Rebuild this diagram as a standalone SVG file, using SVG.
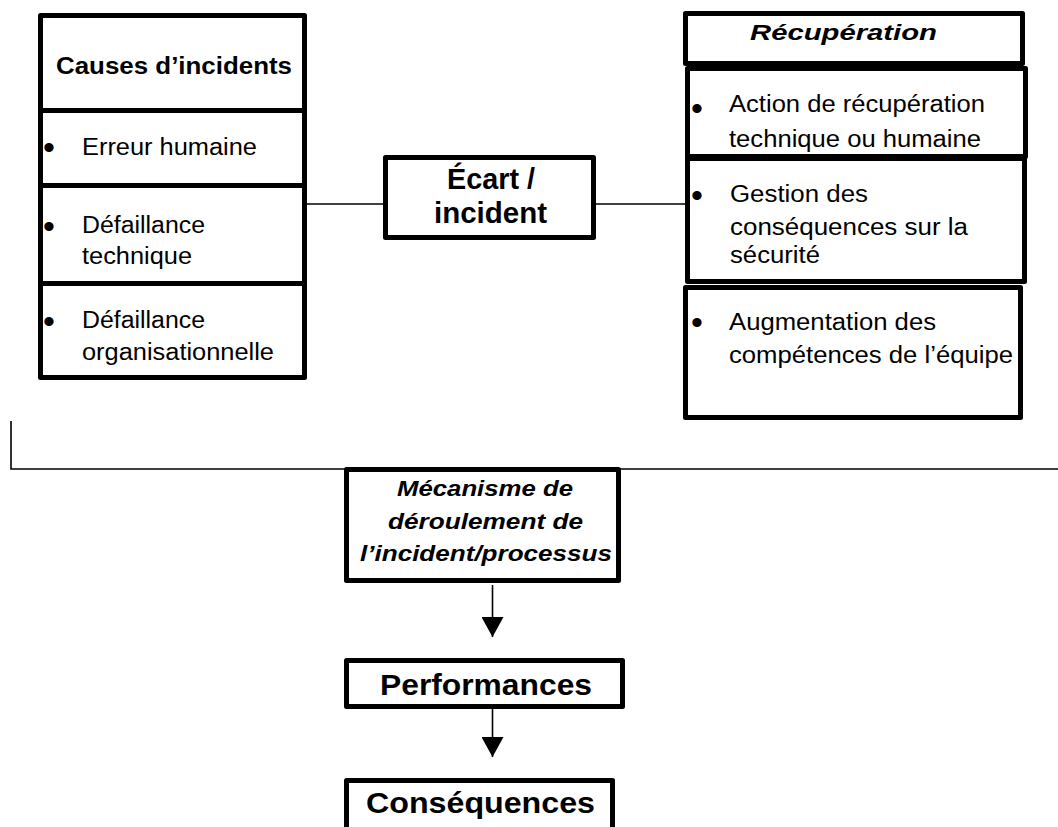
<svg xmlns="http://www.w3.org/2000/svg" width="1058" height="827" viewBox="0 0 1058 827">
  <style>
    .box { fill: #fff; stroke: #000; stroke-width: 5; stroke-linejoin: round; }
    .wire { fill: none; stroke: #000; stroke-width: 1.6; }
    text { font-family: "Liberation Sans", Arial, sans-serif; fill: #000; }
    .n { font-size: 23px; }
    .head { font-size: 23px; font-weight: bold; }
    .headi { font-size: 22px; font-weight: bold; font-style: italic; }
    .mec { font-size: 22px; font-weight: bold; font-style: italic; }
    .big { font-size: 29px; font-weight: bold; }
    .dot { font-size: 34px; }
  </style>
  <defs>
    <marker id="arrowhead" markerUnits="userSpaceOnUse" markerWidth="21" markerHeight="22" refX="20" refY="11" orient="auto">
      <path d="M0,0 L20,11 L0,22 z" fill="#000"/>
    </marker>
  </defs>
  <rect width="1058" height="827" fill="#fff"/>

  <!-- connectors -->
  <g id="connectors">
    <line class="wire" x1="298" y1="204" x2="385" y2="204"/>
    <line class="wire" x1="595" y1="204" x2="686" y2="204"/>
    <polyline class="wire" points="11,421 11,469 1058,469"/>
    <line class="wire" x1="492.5" y1="585" x2="492.5" y2="637" marker-end="url(#arrowhead)"/>
    <line class="wire" x1="492.5" y1="708" x2="492.5" y2="757" marker-end="url(#arrowhead)"/>
  </g>

  <!-- causes column -->
  <g id="causes-header">
    <rect class="box" x="40.5" y="15.5" width="264" height="95"/>
    <text class="head" x="56" y="74" textLength="236" lengthAdjust="spacingAndGlyphs">Causes d’incidents</text>
  </g>
  <g id="cause-human">
    <rect class="box" x="40.5" y="110.5" width="264" height="75"/>
    <text class="dot" x="43" y="159">•</text>
    <text class="n" x="82" y="155" textLength="175" lengthAdjust="spacingAndGlyphs">Erreur humaine</text>
  </g>
  <g id="cause-technical">
    <rect class="box" x="40.5" y="185.5" width="264" height="98"/>
    <text class="dot" x="43" y="238">•</text>
    <text class="n" x="82" y="233" textLength="123" lengthAdjust="spacingAndGlyphs">Défaillance</text>
    <text class="n" x="82" y="264" textLength="110" lengthAdjust="spacingAndGlyphs">technique</text>
  </g>
  <g id="cause-organisational">
    <rect class="box" x="40.5" y="283.5" width="264" height="94"/>
    <text class="dot" x="43" y="333">•</text>
    <text class="n" x="82" y="328" textLength="123" lengthAdjust="spacingAndGlyphs">Défaillance</text>
    <text class="n" x="82" y="360" textLength="192" lengthAdjust="spacingAndGlyphs">organisationnelle</text>
  </g>

  <!-- central event -->
  <g id="ecart-incident">
    <rect class="box" x="385.5" y="157.5" width="208" height="80"/>
    <text class="big" x="447" y="189" textLength="88" lengthAdjust="spacingAndGlyphs">Écart /</text>
    <text class="big" x="434" y="223" textLength="113" lengthAdjust="spacingAndGlyphs">incident</text>
  </g>

  <!-- recovery column -->
  <g id="recuperation-header">
    <rect class="box" x="685.5" y="13.5" width="337" height="50"/>
    <text class="headi" x="750" y="40" textLength="187" lengthAdjust="spacingAndGlyphs">Récupération</text>
  </g>
  <g id="recovery-action">
    <rect class="box" x="687.5" y="68.5" width="338" height="88"/>
    <text class="dot" x="691" y="120">•</text>
    <text class="n" x="729" y="112" textLength="256" lengthAdjust="spacingAndGlyphs">Action de récupération</text>
    <text class="n" x="729" y="147" textLength="252" lengthAdjust="spacingAndGlyphs">technique ou humaine</text>
  </g>
  <g id="recovery-safety">
    <rect class="box" x="687.5" y="158.5" width="337" height="123"/>
    <text class="dot" x="691" y="207">•</text>
    <text class="n" x="730" y="202" textLength="138" lengthAdjust="spacingAndGlyphs">Gestion des</text>
    <text class="n" x="730" y="235" textLength="238" lengthAdjust="spacingAndGlyphs">conséquences sur la</text>
    <text class="n" x="730" y="263" textLength="90" lengthAdjust="spacingAndGlyphs">sécurité</text>
  </g>
  <g id="recovery-skills">
    <rect class="box" x="685.5" y="287.5" width="335" height="130"/>
    <text class="dot" x="691" y="334">•</text>
    <text class="n" x="729" y="330" textLength="207" lengthAdjust="spacingAndGlyphs">Augmentation des</text>
    <text class="n" x="729" y="363" textLength="284" lengthAdjust="spacingAndGlyphs">compétences de l’équipe</text>
  </g>

  <!-- process chain -->
  <g id="mecanisme">
    <rect class="box" x="346.5" y="469.5" width="272" height="111"/>
    <text class="mec" x="397" y="496" textLength="176" lengthAdjust="spacingAndGlyphs">Mécanisme de</text>
    <text class="mec" x="388" y="529" textLength="195" lengthAdjust="spacingAndGlyphs">déroulement de</text>
    <text class="mec" x="360" y="561" textLength="252" lengthAdjust="spacingAndGlyphs">l’incident/processus</text>
  </g>
  <g id="performances">
    <rect class="box" x="346.5" y="660.5" width="276" height="46"/>
    <text class="big" x="380" y="695" textLength="212" lengthAdjust="spacingAndGlyphs">Performances</text>
  </g>
  <g id="consequences">
    <rect class="box" x="346.5" y="780.5" width="266" height="70"/>
    <text class="big" x="366" y="813" textLength="229" lengthAdjust="spacingAndGlyphs">Conséquences</text>
  </g>
</svg>
